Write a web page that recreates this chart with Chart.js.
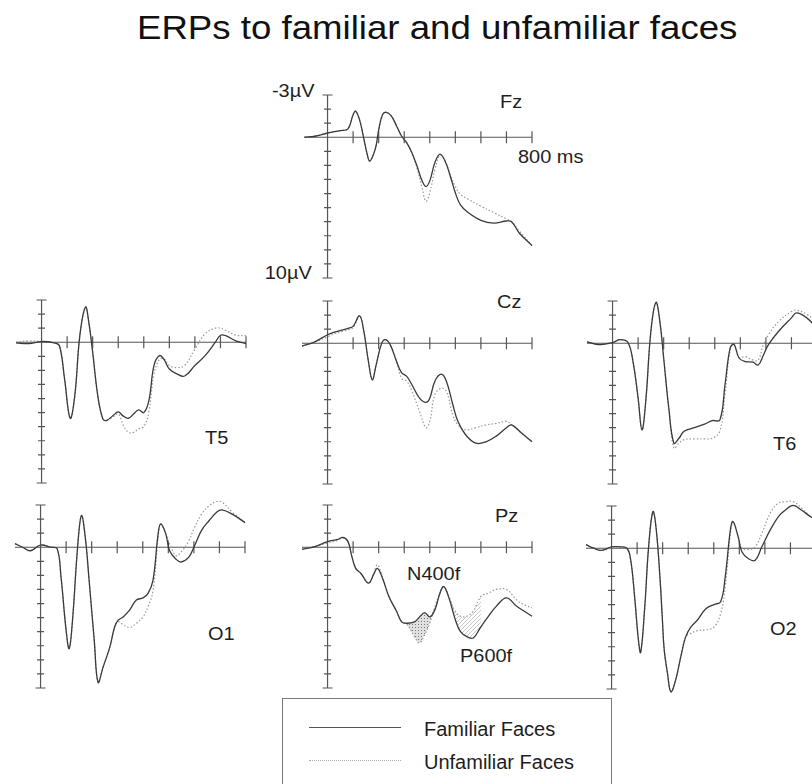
<!DOCTYPE html>
<html>
<head>
<meta charset="utf-8">
<script src="https://cdn.jsdelivr.net/npm/chart.js@4.4.1/dist/chart.umd.min.js"></script>
<style>
  html, body { margin:0; padding:0; background:#fff; overflow:hidden; }
  body { width:812px; height:784px; position:relative; font-family:"Liberation Sans", Arial, sans-serif; color:#1e1e1e; }
  .panel { position:absolute; }
  .lbl { position:absolute; white-space:nowrap; font-size:19px; line-height:1; transform:scaleX(1.05); transform-origin:left top; }
  .lbl.der { transform-origin:right top; }
  #titulo { position:absolute; left:137px; top:10px; font-size:34px; line-height:1; white-space:nowrap; transform:scaleX(1.077); transform-origin:left top; color:#111; }
  #leyenda { position:absolute; left:282px; top:698px; width:330px; height:110px; border:1px solid #777; box-sizing:border-box; }
  .linea { position:absolute; left:26px; width:92px; height:0; }
  .txtley { position:absolute; left:141px; font-size:20px; line-height:1; white-space:nowrap; }
</style>
</head>
<body>

<div id="titulo">ERPs to familiar and unfamiliar faces</div>

<div class="lbl der" style="right:497px; top:81px;">-3µV</div>
<div class="lbl der" style="right:500px; top:263px;">10µV</div>
<div class="lbl" style="left:500px; top:92px;">Fz</div>
<div class="lbl" style="left:518px; top:147px;">800 ms</div>
<div class="lbl" style="left:497px; top:292px;">Cz</div>
<div class="lbl" style="left:205px; top:428px;">T5</div>
<div class="lbl" style="left:773px; top:434px;">T6</div>
<div class="lbl" style="left:495px; top:506px;">Pz</div>
<div class="lbl" style="left:407px; top:564px;">N400f</div>
<div class="lbl" style="left:208px; top:624px;">O1</div>
<div class="lbl" style="left:460px; top:646px;">P600f</div>
<div class="lbl" style="left:770px; top:619px;">O2</div>

<div id="leyenda">
  <div class="linea" style="top:28px; border-top:1.3px solid #555;"></div>
  <div class="txtley" style="top:20px;">Familiar Faces</div>
  <div class="linea" style="top:61px; border-top:1.3px dotted #aaa;"></div>
  <div class="txtley" style="top:53px;">Unfamiliar Faces</div>
</div>

<script>
// ejes: milisegundos y microvoltios (negativo hacia arriba)
const msTicks = [100, 200, 300, 400, 500, 600, 700, 800];
const uvTicks = [-3, -2, -1, 0, 1, 2, 3, 4, 5, 6, 7, 8, 9, 10];

// ===== Fz =====
const fzT   = [-90,-50,0,50,80,100,110,125,140,155,165,180,190,200,215,230,250,270,290,310,330,350,370,385,400,420,440,460,480,500,520,550,600,650,700,720,750,800];
const fzFam = [0,-0.07,-0.3,-0.47,-0.6,-1.6,-1.85,-1.25,-0.07,1.2,1.7,1.2,0.6,-0.5,-1.6,-1.77,-1.5,-0.8,-0.07,0.4,1.1,2.05,3.1,3.5,3.1,1.8,1.2,1.7,2.75,3.95,4.8,5.35,5.9,6.1,5.95,6.0,6.8,7.7];
const fzUnf = [0,-0.07,-0.3,-0.47,-0.6,-1.6,-1.85,-1.25,-0.07,1.2,1.7,1.2,0.6,-0.5,-1.6,-1.77,-1.5,-0.8,-0.07,0.4,1.1,2.2,3.6,4.55,3.95,2.3,1.28,1.7,2.65,3.5,4.05,4.4,4.9,5.35,5.8,6.0,6.65,7.7];

// ===== T5 =====
const t5T   = [-100,-50,0,50,70,90,112,130,150,172,185,200,220,240,255,280,300,320,340,360,380,400,420,440,462,480,500,530,560,600,640,680,700,720,760,800];
const t5Fam = [0.05,0.1,-0.05,0.05,0.25,2.6,5.4,3.8,-0.5,-2.5,-1.4,0.7,3.8,5.45,5.55,5.2,4.95,5.25,5.4,5.1,4.8,5.0,4.15,1.65,0.95,1.25,1.9,2.25,2.4,1.65,0.95,0,-0.5,-0.47,-0.1,0.1];
const t5Unf = [0,-0.1,-0.05,0.05,0.25,2.6,5.4,3.8,-0.5,-2.5,-1.4,0.7,3.8,5.45,5.55,5.3,5.1,5.9,6.4,6.4,6.15,6.0,4.95,2.25,1.2,1.2,1.65,1.8,1.65,0.5,-0.6,-1.0,-1.0,-0.85,-0.5,-0.47];

// ===== Cz =====
const czT   = [-100,-50,0,30,60,80,100,125,140,160,175,190,210,225,245,270,290,310,330,360,385,400,420,445,465,490,510,540,580,620,660,700,720,760,800];
const czFam = [0.2,-0.1,-0.6,-0.8,-0.95,-1.05,-1.2,-1.95,-1.05,1.3,2.6,1.55,0.1,-0.25,0.1,1.3,2.1,2.35,2.95,3.9,4.2,3.9,2.7,2.2,2.7,4.35,5.55,6.5,7.1,7.0,6.6,6.0,5.8,6.4,7.0];
const czUnf = [0.2,-0.1,-0.45,-0.7,-0.85,-0.95,-1.1,-1.95,-1.05,1.3,2.6,1.55,0.1,-0.25,0.1,1.3,2.5,2.7,3.4,4.85,6.0,5.55,3.65,3.2,3.4,5.1,5.8,6.15,6.0,5.8,5.7,5.55,5.8,6.4,7.0];

// ===== T6 =====
const t6T   = [-100,-50,0,30,60,80,100,115,130,150,170,185,200,220,240,260,280,320,360,390,420,440,460,475,495,520,550,570,590,610,650,700,720,760,800];
const t6Fam = [-0.1,0.1,-0.05,-0.25,-0.05,1.3,3.9,6.15,4.1,-0.85,-2.9,-1.55,1.05,4.6,7.1,6.75,6.25,6.0,5.75,5.5,5.45,2.95,0.35,0.07,1.05,1.3,1.35,1.55,0.85,0.1,-0.85,-1.8,-2.15,-1.8,-1.05];
const t6Unf = [-0.1,0.1,-0.05,-0.25,-0.05,1.3,3.9,6.15,4.1,-0.85,-2.9,-1.55,1.05,4.6,7.45,7.1,6.85,6.8,6.8,6.75,6.25,3.65,0.5,0.07,1.0,0.95,1.2,1.2,0.1,-0.6,-1.55,-2.25,-2.35,-2.05,-1.5];

// ===== O1 =====
const o1T   = [-100,-70,-40,0,40,65,80,100,112,125,145,160,175,190,210,225,245,271,290,303,323,349,375,401,420,440,460,470,490,505,530,550,580,600,630,660,690,710,750,800];
const o1Fam = [-0.25,0,0.25,-0.15,0,0.1,2.1,5.9,7.2,5.2,0,-2.25,-0.7,2.35,6.6,9.6,8.5,7.1,5.65,5.2,4.95,4.45,3.75,3.6,3.3,2.35,-0.95,-1.65,-0.95,0.25,0.85,1.05,0.7,0,-1.2,-1.9,-2.5,-2.65,-2.35,-1.75];
const o1Unf = [-0.25,0,0.25,-0.15,0,0.1,2.1,5.9,7.2,5.2,0,-2.25,-0.7,2.35,6.6,9.6,8.5,7.1,5.65,5.3,5.5,5.7,5.4,4.95,4.25,3.1,-0.6,-1.65,-0.95,-0.25,0.6,0.35,-0.45,-1.3,-2.35,-2.95,-3.25,-3.2,-2.5,-1.75];

// ===== Pz =====
const pzT   = [-100,-50,0,40,60,80,95,110,130,160,180,195,215,240,270,290,310,340,360,380,400,420,440,455,475,500,520,545,570,600,630,660,700,740,770,800];
const pzFam = [0.15,-0.05,-0.4,-0.55,-0.7,-0.4,0.65,1.5,1.85,2.55,1.95,1.5,2.2,3.5,4.55,5.3,5.4,5.3,4.95,4.65,4.95,4.45,3.25,2.8,3.6,5.15,6.0,6.35,6.45,5.65,4.9,4.2,3.6,4.2,4.55,4.9];
const pzUnf = [0.15,-0.05,-0.3,-0.5,-0.65,-0.4,0.65,1.5,1.85,2.55,1.9,1.25,2.1,3.5,4.55,5.3,5.45,6.35,6.8,6.2,5.4,4.2,3.25,2.8,3.5,4.55,4.9,4.9,4.55,3.5,3.25,3.0,3.0,3.75,4.1,4.3];
const n400Rango = [310, 440];
const p600Rango = [475, 600];

// ===== O2 =====
const o2T   = [-100,-70,-40,0,30,60,75,90,105,114,130,145,162,175,190,199,206,219,232,251,271,290,310,336,369,401,427,445,465,475,495,510,536,562,588,621,653,679,711,744,778,800];
const o2Fam = [-0.25,0,0.15,-0.1,-0.1,0,0.85,3.4,6.5,7.4,4.15,-0.1,-2.6,-1.3,2.25,5.1,7.2,8.9,10.2,9.35,7.7,6.3,5.6,5.1,4.3,4.0,3.8,2.0,-1.3,-1.9,-0.85,0.25,0.75,0.85,-0.1,-1.3,-2.25,-2.7,-3.05,-2.7,-2.25,-2.0];
const o2Unf = [-0.25,0,0.15,0,-0.1,0,0.85,3.4,6.5,7.4,4.15,-0.1,-2.6,-1.3,2.25,5.1,7.2,8.9,10.2,9.35,7.7,6.3,6.05,5.85,5.8,5.6,4.65,2.7,-1.0,-1.9,-0.85,0,0.1,-0.1,-1.05,-2.5,-3.2,-3.3,-3.3,-2.85,-2.25,-2.0];

// escala de la figura
const PX_MS = 0.2556;   // px por ms
const PX_UV = 14.1;     // px por microvoltio
const PAD = 14;
const TENSION = 0.4;

const COLORES = {
  familiar: "#3a3a3a",
  noFamiliar: "#9a9a9a",
  eje: "#555"
};

const paneles = [
  { x0: 328, y0: 137, t: fzT, fam: fzFam, unf: fzUnf, desde: -92 },
  { x0: 42,  y0: 342, t: t5T, fam: t5Fam, unf: t5Unf },
  { x0: 328, y0: 343, t: czT, fam: czFam, unf: czUnf },
  { x0: 613, y0: 343, t: t6T, fam: t6Fam, unf: t6Unf },
  { x0: 41,  y0: 547, t: o1T, fam: o1Fam, unf: o1Unf },
  { x0: 328, y0: 547, t: pzT, fam: pzFam, unf: pzUnf, sombra: true },
  { x0: 612, y0: 548, t: o2T, fam: o2Fam, unf: o2Unf }
];

function puntos(t, v) {
  return t.map((tt, i) => ({ x: tt, y: v[i] }));
}

function recorte(t, v, rango) {
  return puntos(t, v).filter(p => p.x >= rango[0] && p.x <= rango[1]);
}

// texturas para las zonas sombreadas de Pz
function patronPuntos() {
  const c = document.createElement("canvas");
  c.width = 3; c.height = 3;
  const g = c.getContext("2d");
  g.fillStyle = "rgba(0,0,0,0.12)";
  g.fillRect(0, 0, 3, 3);
  g.fillStyle = "rgba(0,0,0,0.45)";
  g.fillRect(1, 1, 1, 1);
  return g.createPattern(c, "repeat");
}

function patronRayas() {
  const c = document.createElement("canvas");
  c.width = 4; c.height = 4;
  const g = c.getContext("2d");
  g.strokeStyle = "rgba(0,0,0,0.22)";
  g.lineWidth = 1;
  g.beginPath();
  g.moveTo(0, 4); g.lineTo(4, 0);
  g.stroke();
  return g.createPattern(c, "repeat");
}

// cruz de ejes dibujada con las escalas del chart
const ejes = {
  id: "ejes",
  beforeDatasetsDraw(chart, args, opts) {
    const { ctx, scales: { x, y } } = chart;
    const cx = x.getPixelForValue(0);
    const cy = y.getPixelForValue(0);
    ctx.save();
    ctx.strokeStyle = COLORES.eje;
    ctx.lineWidth = 1.2;
    ctx.beginPath();
    ctx.moveTo(x.getPixelForValue(opts.desde), cy);
    ctx.lineTo(x.getPixelForValue(800), cy);
    msTicks.forEach(ms => {
      const px = x.getPixelForValue(ms);
      ctx.moveTo(px, cy - 6);
      ctx.lineTo(px, cy + 6);
    });
    ctx.moveTo(cx, y.getPixelForValue(-3));
    ctx.lineTo(cx, y.getPixelForValue(10));
    uvTicks.forEach(uv => {
      const py = y.getPixelForValue(uv);
      const l = (uv === -3 || uv === 10) ? 5 : 3.5;
      ctx.moveTo(cx - l, py);
      ctx.lineTo(cx + l, py);
    });
    ctx.stroke();
    ctx.restore();
  }
};

const anchoPlot = Math.round(900 * PX_MS);
const altoPlot = Math.round(13 * PX_UV);

paneles.forEach(p => {
  const caja = document.createElement("div");
  caja.className = "panel";
  caja.style.left = (p.x0 - 100 * PX_MS - PAD) + "px";
  caja.style.top = (p.y0 - 3 * PX_UV - PAD) + "px";
  caja.style.width = (anchoPlot + 2 * PAD) + "px";
  caja.style.height = (altoPlot + 2 * PAD) + "px";
  const lienzo = document.createElement("canvas");
  caja.appendChild(lienzo);
  document.body.appendChild(caja);

  const datasets = [
    {
      data: puntos(p.t, p.fam),
      borderColor: COLORES.familiar,
      borderWidth: 1.3,
      tension: TENSION,
      pointRadius: 0,
      fill: false,
      clip: false
    },
    {
      data: puntos(p.t, p.unf),
      borderColor: COLORES.noFamiliar,
      borderWidth: 1.2,
      borderDash: [1.5, 2],
      tension: TENSION,
      pointRadius: 0,
      fill: false,
      clip: false
    }
  ];

  if (p.sombra) {
    datasets.push({
      data: recorte(p.t, p.unf, n400Rango),
      borderWidth: 0,
      borderColor: "rgba(0,0,0,0)",
      backgroundColor: patronPuntos(),
      tension: TENSION,
      pointRadius: 0,
      fill: { target: 0 },
      clip: false
    });
    datasets.push({
      data: recorte(p.t, p.unf, p600Rango),
      borderWidth: 0,
      borderColor: "rgba(0,0,0,0)",
      backgroundColor: patronRayas(),
      tension: TENSION,
      pointRadius: 0,
      fill: { target: 0 },
      clip: false
    });
  }

  new Chart(lienzo, {
    type: "line",
    data: { datasets },
    options: {
      responsive: true,
      maintainAspectRatio: false,
      animation: false,
      layout: { padding: PAD },
      scales: {
        x: { type: "linear", min: -100, max: 800, display: false },
        y: { min: -3, max: 10, reverse: true, display: false }
      },
      plugins: {
        legend: { display: false },
        tooltip: { enabled: false },
        ejes: { desde: p.desde ?? -100 }
      }
    },
    plugins: [ejes]
  });
});
</script>
</body>
</html>
